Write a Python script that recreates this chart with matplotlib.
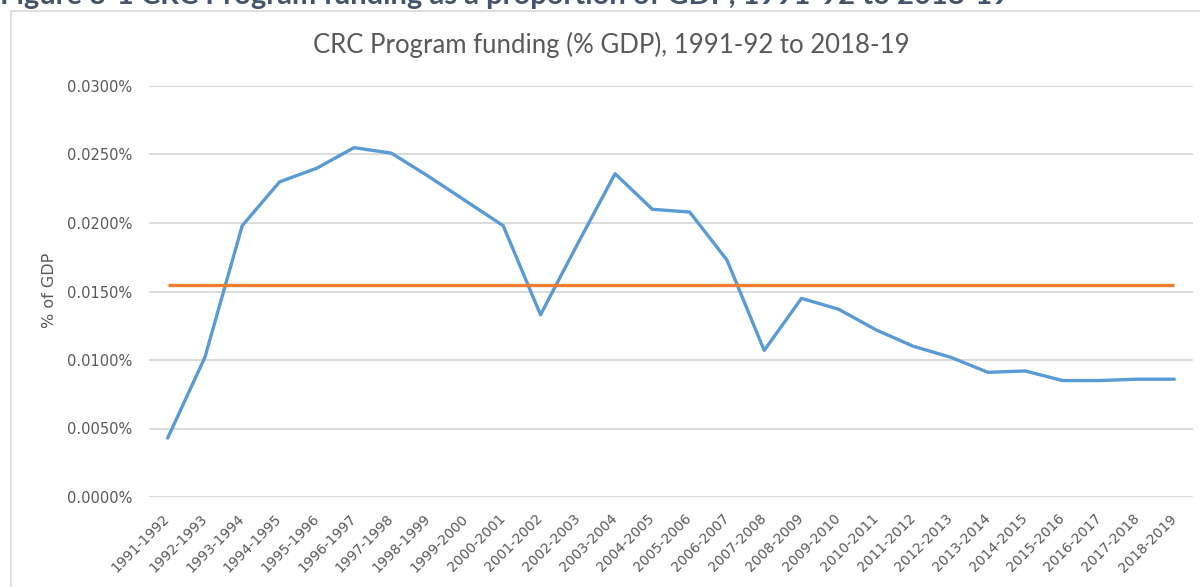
import numpy as np
import matplotlib
matplotlib.use("Agg")
import matplotlib.pyplot as plt
from matplotlib.patches import Rectangle
from matplotlib.ticker import FuncFormatter

# data (% of GDP)
years = ['1991-1992', '1992-1993', '1993-1994', '1994-1995', '1995-1996', '1996-1997',
         '1997-1998', '1998-1999', '1999-2000', '2000-2001', '2001-2002', '2002-2003',
         '2003-2004', '2004-2005', '2005-2006', '2006-2007', '2007-2008', '2008-2009',
         '2009-2010', '2010-2011', '2011-2012', '2012-2013', '2013-2014', '2014-2015',
         '2015-2016', '2016-2017', '2017-2018', '2018-2019']
funding_pct = [0.0043, 0.0102, 0.0198, 0.0230, 0.0240, 0.0255, 0.0251, 0.0234, 0.0216,
               0.0198, 0.0133, 0.0185, 0.0236, 0.0210, 0.0208, 0.0173, 0.0107, 0.0145,
               0.0137, 0.0122, 0.0110, 0.0102, 0.0091, 0.0092, 0.0085, 0.0085, 0.0086,
               0.0086]
average_pct = 0.0155
yticks = [0.0, 0.005, 0.010, 0.015, 0.020, 0.025, 0.030]

header = 'Figure 3-1 CRC Program funding as a proportion of GDP, 1991-92 to 2018-19'
title = 'CRC Program funding (% GDP), 1991-92 to 2018-19'

W, H = 1200, 587
fig = plt.figure(figsize=(W / 100, H / 100), dpi=100)

# chart frame (runs off the right and bottom of the crop)
fig.patches.append(Rectangle((11 / W, -0.1), 1.2, 1 - 11 / H + 0.1, transform=fig.transFigure,
                             fill=False, edgecolor='#D9D9D9', linewidth=1.2))

ax = fig.add_axes([149 / W, 1 - 497 / H, (1193 - 149) / W, (497 - 86) / H])
x = np.arange(len(years))

ax.plot(x, funding_pct, color='#5B9BD5', linewidth=2.4, solid_capstyle='round', zorder=3)
ax.plot(x, [average_pct] * len(x), color='#ED7D31', linewidth=2.4, solid_capstyle='butt', zorder=3)

ax.set_xlim(-0.5, len(years) - 0.5)
ax.set_ylim(0, 0.030)
ax.set_yticks(yticks)
ax.yaxis.set_major_formatter(FuncFormatter(lambda v, p: f'{v:.4f}%'))
ax.grid(axis='y', color='#D9D9D9', linewidth=1.3)
ax.set_axisbelow(True)
for s in ax.spines.values():
    s.set_visible(False)

ax.set_xticks(x)
ax.set_xticklabels(years, rotation=45, ha='right', va='center', rotation_mode='anchor')
ax.tick_params(axis='x', length=0, pad=14, labelsize=10, labelcolor='#595959')
ax.tick_params(axis='y', length=0, pad=12, labelsize=10.5, labelcolor='#595959')

fig.text(50 / W, 1 - 290 / H, '% of GDP', rotation=90, ha='center', va='center',
         fontsize=11.5, color='#595959')

fig.text(611 / W, 1 - 45 / H, title, ha='center', va='center', fontsize=18.5,
         color='#595959', family=['Lato', 'DejaVu Sans'])

# report heading, cut by the top edge
fig.text(0, 1 - 4 / H, header, ha='left', va='baseline', fontsize=21, fontweight='bold',
         color='#44546A', family=['Lato', 'DejaVu Sans'])

fig.savefig('out.png', dpi=100)
